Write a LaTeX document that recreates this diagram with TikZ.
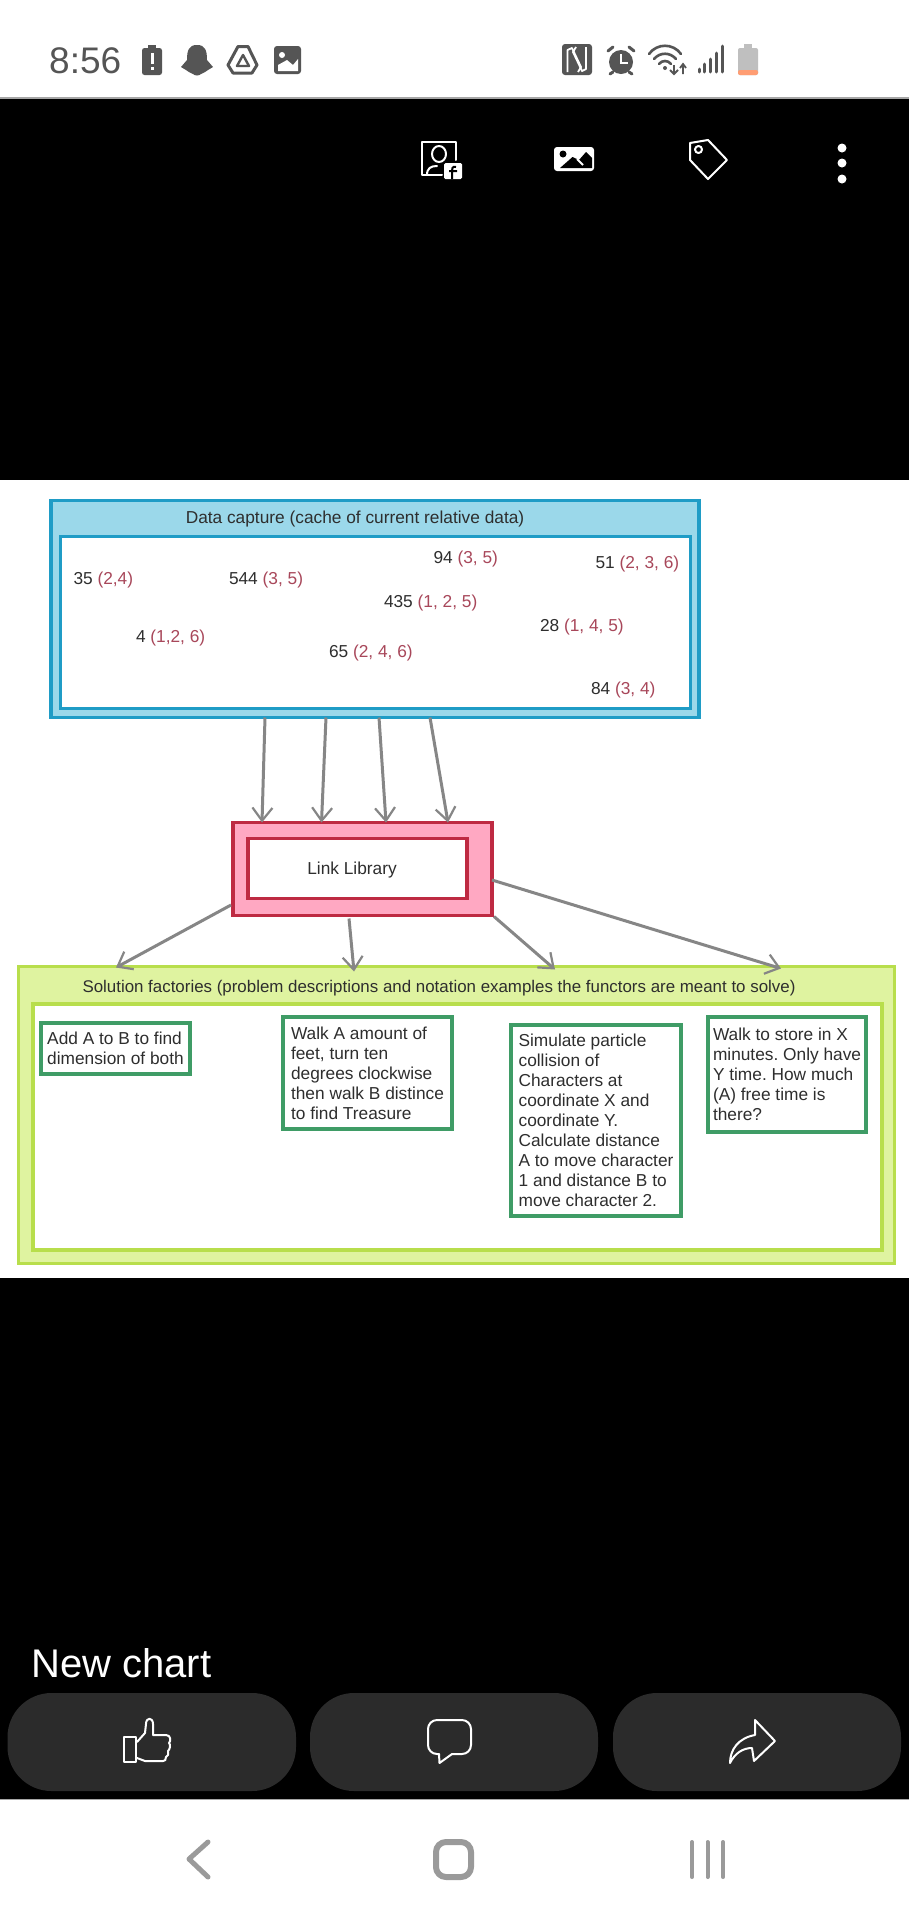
\documentclass[tikz,border=0pt]{standalone}
\usepackage{fontspec}
\setmainfont{Liberation Sans}
\frenchspacing
\usetikzlibrary{arrows.meta}
\definecolor{capfill}{HTML}{9BD8EA}
\definecolor{capline}{HTML}{1F9CC6}
\definecolor{libfill}{HTML}{FFA8C2}
\definecolor{libline}{HTML}{BE2A42}
\definecolor{facfill}{HTML}{DFF3A0}
\definecolor{facline}{HTML}{B8DE4C}
\definecolor{probline}{HTML}{3F9C66}
\definecolor{refred}{HTML}{A8475A}
\definecolor{ink}{HTML}{2E2E2E}
\definecolor{bar}{HTML}{555555}
\definecolor{pill}{HTML}{2B2B2B}
\definecolor{navgray}{HTML}{9A9A9A}
\newcommand{\rf}[1]{\textcolor{refred}{#1}}
\tikzset{
  x=1pt,y=-1pt,
  box/.style={draw,anchor=center,inner sep=0pt,outer sep=0pt,line width=3.5pt},
  outerblue/.style={box,fill=capfill,draw=capline},
  innerblue/.style={box,fill=white,draw=capline},
  outerpink/.style={box,fill=libfill,draw=libline},
  innerpink/.style={box,fill=white,draw=libline},
  outergreen/.style={box,fill=facfill,draw=facline},
  innergreen/.style={box,fill=white,draw=facline},
  txt/.style={font=\fontsize{17.3}{20}\selectfont,text=ink,inner sep=0pt,outer sep=0pt},
  val/.style={txt,anchor=west},
  prob/.style={draw=probline,line width=3.5pt,fill=white,anchor=north west,align=left,
     inner xsep=6pt,inner ysep=0pt,outer sep=0pt,font=\fontsize{17.3}{20}\selectfont,text=ink},
  flow/.style={draw=gray!95,line width=3pt,-{Straight Barb[length=13pt,width=20pt,line width=2.2pt]}},
  icon/.style={draw=white,line width=2pt,line join=round,line cap=round},
  sicon/.style={fill=bar},
  pillbtn/.style={fill=pill,rounded corners=44pt},
  nav/.style={draw=navgray,line cap=round,line join=round}
}
\begin{document}
\begin{tikzpicture}
\useasboundingbox (0,0) rectangle (909,1920);
% screen bands
\fill[white] (0,0) rectangle (909,1920);
\fill[black] (0,98) rectangle (909,480);
\fill[black] (0,1278) rectangle (909,1799);
\fill[gray!70] (0,97) rectangle (909,98.5);
\fill[gray!70] (0,1798.5) rectangle (909,1800);

% status bar
\node[anchor=west,inner sep=0pt,text=bar,font=\fontsize{37}{40}\selectfont] (clock) at (49,61) {8:56};
% battery alert
\fill[sicon,rounded corners=2.5pt] (142,48) rectangle (162,75);
\fill[sicon] (148,45) rectangle (156,49);
\fill[white] (150.5,53) rectangle (153.5,64);
\fill[white] (150.5,67) rectangle (153.5,70);
% ghost
\fill[sicon] (197,45) .. controls (189,45) and (187,50) .. (187,60) -- (181,67) -- (186,70)
  .. controls (189,71) and (190,74) .. (193,74) .. controls (195,76) and (199,76) .. (201,74)
  .. controls (204,74) and (205,71) .. (208,70) -- (213,67) -- (207,60)
  .. controls (207,50) and (205,45) .. (197,45) -- cycle;
% drive
\draw[bar,line width=3pt,line join=round] (238,46.5) -- (248,46.5) -- (257,65) -- (252,73) -- (233,73) -- (228,65) -- cycle;
\draw[bar,line width=2.4pt,line join=round] (243,55) -- (249,66) -- (237,66) -- cycle;
% status image
\fill[sicon,rounded corners=3pt] (274,46) rectangle (301,74);
\fill[white] (278,71) -- (278,65) -- (287,60) -- (293,65) -- (298,59) -- (298,71) -- cycle;
\fill[white] (282,55) circle[radius=3pt];
% NFC
\fill[sicon,rounded corners=3pt] (562,44) rectangle (592,75);
\draw[white,line width=1.8pt,line join=round] (567.5,72) -- (567.5,50) -- (572,48) -- (581,67) -- (578,72);
\draw[white,line width=1.8pt,line join=round] (586,47) -- (586,69) -- (582,71) -- (573,52) -- (576,47);
% alarm
\fill[sicon] (621,62) circle[radius=12pt];
\draw[bar,line width=3pt,line cap=round] (608,51) -- (613,47) (634,51) -- (629,47) (613,72) -- (610,74) (629,72) -- (632,74);
\draw[white,line width=2.2pt] (621,54) -- (621,63) -- (628,63);
% wifi
\draw[bar,line width=2.6pt,line cap=round] (649,54) .. controls (657,43) and (673,43) .. (681,54);
\draw[bar,line width=2.6pt,line cap=round] (654,59) .. controls (660,52) and (670,52) .. (676,59);
\draw[bar,line width=2.6pt,line cap=round] (659,64) .. controls (662,60) and (668,60) .. (671,64);
\fill[bar] (665,68) circle[radius=2pt];
\draw[bar,line width=1.8pt] (674,65) -- (674,74) (670,70) -- (674,74) -- (678,70);
\draw[bar,line width=1.8pt] (683,74) -- (683,64) (680,68) -- (683,64) -- (686,68);
% signal
\draw[bar,line width=3pt,line cap=round] (699,72) -- (699,69) (704.5,72) -- (704.5,64) (710,72) -- (710,59) (716,72) -- (716,53) (722,72) -- (722,46);
% battery
\fill[gray!50,rounded corners=2pt] (738,48) rectangle (758,75);
\fill[gray!50] (744,44) rectangle (752,49);
\fill[orange!60!red!55,rounded corners=2pt] (738,70) rectangle (758,75);

% header icons
\draw[icon] (456,160) -- (456,142) -- (422,142) -- (422,175) -- (442,175);
\draw[icon] (439,154) ellipse[x radius=7pt,y radius=8pt];
\draw[icon] (427,175) .. controls (427,168) and (431,166) .. (437,166);
\fill[white,rounded corners=1.5pt] (444,163) rectangle (462,179);
\draw[black,line width=2pt] (456,167) .. controls (452,166) and (452,169) .. (452,171) -- (452,179) (449,171) -- (457,171);
\fill[white,rounded corners=3pt] (554,147) rectangle (594,171);
\fill[black] (560,168) -- (572.5,157) -- (579,160) -- (586,152) -- (592,158) -- (592,168) -- cycle;
\draw[white,line width=2pt] (577,159) -- (583,165);
\fill[black] (563,154) circle[radius=3.5pt];
\draw[icon] (690,143) -- (708,140) -- (727,160) -- (708,179) -- (690,160) -- cycle;
\draw[icon] (698.5,149.5) circle[radius=3.5pt];
\fill[white] (842,148) circle[radius=4.5pt] (842,163) circle[radius=4.5pt] (842,179) circle[radius=4.5pt];

% diagram boxes
\node[outerblue,minimum width=648pt,minimum height=217pt] (cap) at (375,609) {};
\node[innerblue,minimum width=630pt,minimum height=172pt] (capin) at (375.5,622.5) {};
\node[txt] (captitle) at (355,519.5) {Data capture (cache of current relative data)};
\node[val] (v1) at (73.5,580.5) {35 \rf{(2,4)}};
\node[val] (v2) at (229,580.5) {544 \rf{(3, 5)}};
\node[val] (v3) at (433.5,559) {94 \rf{(3, 5)}};
\node[val] (v4) at (595.5,564) {51 \rf{(2, 3, 6)}};
\node[val] (v5) at (384,603) {435 \rf{(1, 2, 5)}};
\node[val] (v6) at (540,627) {28 \rf{(1, 4, 5)}};
\node[val] (v7) at (136,638.5) {4 \rf{(1,2, 6)}};
\node[val] (v8) at (329,653.5) {65 \rf{(2, 4, 6)}};
\node[val] (v9) at (591,690.5) {84 \rf{(3, 4)}};

\node[outerpink,minimum width=259pt,minimum height=93pt] (lib) at (362.5,869) {};
\node[innerpink,minimum width=219pt,minimum height=60pt] (libin) at (357.5,868.5) {};
\node[txt] (libtitle) at (352,870) {Link Library};

\node[outergreen,minimum width=876pt,minimum height=297pt] (fac) at (456.5,1115) {};
\node[innergreen,minimum width=849pt,minimum height=246pt] (facin) at (457.5,1127) {};
\node[txt,font=\fontsize{16.9}{20}\selectfont] (factitle) at (439,988) {Solution factories (problem descriptions and notation examples the functors are meant to solve)};

\node[prob,minimum width=149pt,minimum height=51pt] (p1) at (41,1023) {Add A to B to find\\dimension of both};
\node[prob,minimum width=169pt,minimum height=112pt] (p2) at (283,1017) {Walk A amount of\\feet, turn ten\\degrees clockwise\\then walk B distince\\to find Treasure};
\node[prob,minimum width=170pt,minimum height=191pt] (p3) at (511,1025) {Simulate particle\\collision of\\Characters at\\coordinate X and\\coordinate Y.\\Calculate distance\\A to move character\\1 and distance B to\\move character 2.};
\node[prob,inner xsep=5pt,minimum width=157pt,minimum height=115pt] (p4) at (708,1017) {Walk to store in X\\minutes. Only have\\Y time. How much\\(A) free time is\\there?};

% connectors
\draw[flow] ([xshift=-110pt]cap.south) -- ([xshift=-100.5pt]lib.north);
\draw[flow] ([xshift=-49pt]cap.south) -- ([xshift=-41pt]lib.north);
\draw[flow] ([xshift=4pt]cap.south) -- ([xshift=23.5pt]lib.north);
\draw[flow] ([xshift=55pt]cap.south) -- ([xshift=85.5pt]lib.north);
\draw[flow] ([yshift=-36pt,xshift=-2pt]lib.west) -- ([xshift=-340.5pt,yshift=-1pt]fac.north);
\draw[flow] ([xshift=-13.5pt,yshift=-3pt]lib.south) -- ([xshift=-102.5pt,yshift=-5pt]fac.north);
\draw[flow] ([xshift=2pt,yshift=-1pt]lib.south east) -- ([xshift=98.5pt,yshift=-3pt]fac.north);
\draw[flow] ([yshift=-11pt]lib.east) -- ([xshift=324.5pt,yshift=-2pt]fac.north);

% bottom panel
\node[anchor=base west,inner sep=0pt,text=white,font=\fontsize{40}{44}\selectfont] (chart) at (31,1677) {New chart};
\fill[pillbtn] (7.5,1693) rectangle (296,1791);
\fill[pillbtn] (310,1693) rectangle (598,1791);
\fill[pillbtn] (613,1693) rectangle (901,1791);
% thumb
\draw[icon] (124,1737) rectangle (136,1762);
\draw[icon] (137,1742) -- (145,1733) -- (146,1724) .. controls (146,1717) and (153,1717) .. (153,1724) -- (153,1735) -- (166,1735)
  .. controls (171,1735) and (171,1741) .. (169,1743) .. controls (171,1745) and (170,1749) .. (168,1751)
  .. controls (169,1754) and (168,1756) .. (166,1757) .. controls (166,1760) and (165,1761) .. (163,1761) -- (145,1761) -- (137,1758);
% comment
\draw[icon,rounded corners=9pt] (439,1754) -- (428,1754) -- (428,1720) -- (471,1720) -- (471,1754) -- (452,1754);
\draw[icon] (439,1754) -- (439.5,1763) -- (452,1754);
% share
\draw[icon] (775,1741) -- (755,1720) -- (755,1735) .. controls (738,1738) and (730,1750) .. (730,1763)
  .. controls (735,1753) and (743,1748) .. (752,1748) -- (754,1761) -- cycle;
% nav
\draw[nav,line width=5pt] (208,1842) -- (189,1859) -- (208,1877);
\draw[nav,line width=6pt,rounded corners=10pt] (436,1842) rectangle (471,1877);
\draw[nav,line width=4pt] (692,1842) -- (692,1877) (707.5,1842) -- (707.5,1877) (723,1842) -- (723,1877);
\end{tikzpicture}
\end{document}
